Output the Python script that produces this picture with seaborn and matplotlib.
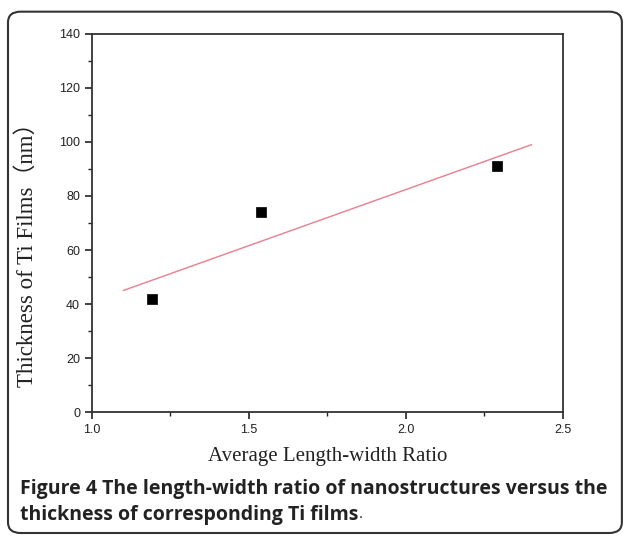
import matplotlib
matplotlib.use("Agg")
import matplotlib.pyplot as plt
from matplotlib.patches import FancyBboxPatch
from matplotlib.ticker import MultipleLocator
import seaborn as sns
import pandas as pd

# data
ratio = [1.19, 1.54, 2.29]
thickness = [42, 74, 91]
fit_x = [1.1, 2.4]
fit_y = [45, 99]

sns.set_style("ticks")
plt.rcParams['font.family'] = ['Liberation Sans', 'DejaVu Sans']

fig = plt.figure(figsize=(6.29, 5.38), dpi=100)
ax = fig.add_axes([0.146, 0.234, 0.749, 0.703])

pts = pd.DataFrame({'ratio': ratio, 'thickness': thickness})
fit = pd.DataFrame({'x': fit_x, 'y': fit_y})

sns.lineplot(data=fit, x='x', y='y', ax=ax, color='#e77f8c', linewidth=1.0)
sns.scatterplot(data=pts, x='ratio', y='thickness', ax=ax, marker='s',
                color='black', s=42, edgecolor='black', linewidth=0.5, zorder=3)

ax.set_xlim(1.0, 2.5)
ax.set_ylim(0, 140)
ax.xaxis.set_major_locator(MultipleLocator(0.5))
ax.xaxis.set_minor_locator(MultipleLocator(0.25))
ax.yaxis.set_major_locator(MultipleLocator(20))
ax.yaxis.set_minor_locator(MultipleLocator(10))
ax.tick_params(which='major', direction='out', length=5, width=1.2, labelsize=9, colors='#222222')
ax.tick_params(which='minor', direction='out', length=3, width=1.0, colors='#222222')
for s in ax.spines.values():
    s.set_visible(True)
    s.set_linewidth(1.3)
    s.set_color('#333333')

serif = ['Liberation Serif', 'Noto Sans CJK SC']
ax.set_xlabel("Average Length-width Ratio", fontsize=15, family=serif, color='#222222', labelpad=8)
ax.set_ylabel("Thickness of Ti Films（nm）", fontsize=16.5, family=serif, color='#222222')
ax.yaxis.set_label_coords(-0.115, 0.43)

# caption
cap = ['Open Sans', 'DejaVu Sans']
fig.text(0.032, 1 - 489 / 538, "Figure 4 The length-width ratio of nanostructures versus the",
         fontsize=14, fontweight='bold', family=cap, color='#222222', va='center', ha='left')
t = fig.text(0.032, 1 - 515 / 538, "thickness of corresponding Ti films",
             fontsize=14, fontweight='bold', family=cap, color='#222222', va='center', ha='left')
fig.canvas.draw()
bb = t.get_window_extent()
fig.text(bb.x1 / fig.bbox.width, 1 - 515 / 538, ".", fontsize=11, family=cap,
         color='#222222', va='center', ha='left')

# rounded frame around the figure
frame = FancyBboxPatch((0.0127, 0.0093), 0.976, 0.969, boxstyle="round,pad=0,rounding_size=0.02",
                       transform=fig.transFigure, facecolor='none', edgecolor='#333333',
                       linewidth=1.5, zorder=0)
fig.patches.append(frame)

fig.savefig("out.png", dpi=100)
